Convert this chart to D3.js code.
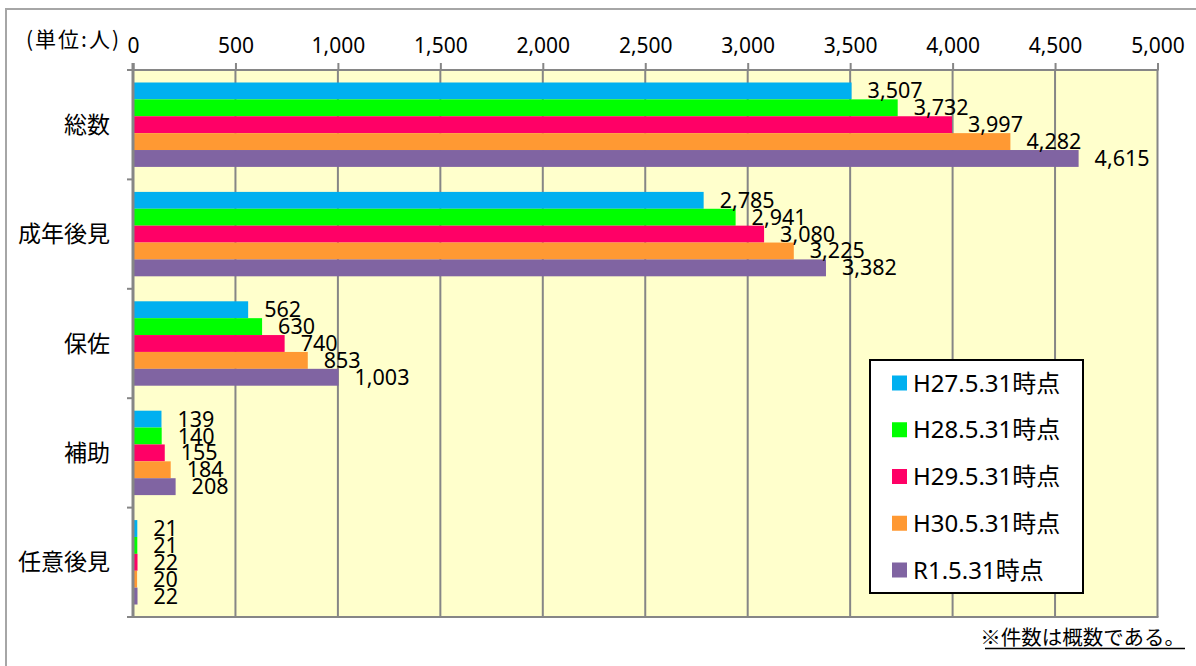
<!DOCTYPE html>
<html><head><meta charset="utf-8">
<script src="https://cdn.jsdelivr.net/npm/d3@7"></script>
<style>
html,body{margin:0;padding:0;background:#fff;}
text{font-family:"Noto Sans","Noto Sans CJK JP",sans-serif;fill:#000;}
.cjk{font-family:"Noto Sans CJK JP","Noto Sans",sans-serif;}
</style></head><body>
<svg id="c" width="1196" height="666"></svg>
<script>
const categories = ["総数","成年後見","保佐","補助","任意後見"];
const seriesNames = ["H27.5.31時点","H28.5.31時点","H29.5.31時点","H30.5.31時点","R1.5.31時点"];
const seriesColors = ["#00B0F0","#00FF00","#FF0066","#FF9933","#8064A2"];
const valuesH27 = [3507,2785,562,139,21];
const valuesH28 = [3732,2941,630,140,21];
const valuesH29 = [3997,3080,740,155,22];
const valuesH30 = [4282,3225,853,184,20];
const valuesR1  = [4615,3382,1003,208,22];
const seriesValues = [valuesH27,valuesH28,valuesH29,valuesH30,valuesR1];
const tickValues = [0,500,1000,1500,2000,2500,3000,3500,4000,4500,5000];
const unitLabel = "(単位:人)";
const noteText = "※件数は概数である。";

const svg = d3.select("#c");
const L = 133, R = 1157.5, T = 70, B = 617;

// outer frame
svg.append("path").attr("d", `M6,666 V9 H1196`).attr("fill","none").attr("stroke","#a6a6a6").attr("stroke-width",2);

const x = d3.scaleLinear().domain([0,5000]).range([L,R]);
const y = d3.scaleBand().domain(categories).range([T,B]).paddingInner(0).paddingOuter(0);
const ySub = d3.scaleBand().domain(d3.range(seriesNames.length)).range([0,y.bandwidth()]).paddingInner(0).paddingOuter(0.74);

// plot background
svg.append("rect").attr("x",L).attr("y",T).attr("width",R-L).attr("height",B-T).attr("fill","#FFFFCC");

// gridlines
svg.append("g").selectAll("line").data(tickValues.slice(1)).join("line")
  .attr("x1",d=>x(d)).attr("x2",d=>x(d)).attr("y1",T).attr("y2",B)
  .attr("stroke","#868686").attr("stroke-width",2);
// top & bottom border
svg.append("line").attr("x1",L).attr("x2",R+1).attr("y1",T).attr("y2",T).attr("stroke","#868686").attr("stroke-width",2);
svg.append("line").attr("x1",L-6).attr("x2",R+1).attr("y1",B).attr("y2",B).attr("stroke","#868686").attr("stroke-width",2);

// bars
const rows = [];
categories.forEach((c,ci)=>seriesValues.forEach((vals,si)=>rows.push({c,si,v:vals[ci]})));
svg.append("g").selectAll("rect").data(rows).join("rect")
  .attr("x",L).attr("y",d=>y(d.c)+ySub(d.si))
  .attr("width",d=>x(d.v)-L).attr("height",ySub.bandwidth())
  .attr("fill",d=>seriesColors[d.si]);

// data labels
const fmt = d3.format(",");
svg.append("g").selectAll("text").data(rows).join("text")
  .attr("x",d=>x(d.v)+16).attr("y",d=>y(d.c)+ySub(d.si)+ySub.bandwidth()/2+7.5)
  .attr("font-size",21.5).text(d=>fmt(d.v));

// top axis
const xAxis = d3.axisTop(x).tickValues(tickValues).tickFormat(d3.format(",")).tickSize(7).tickSizeOuter(0);
const gx = svg.append("g").attr("transform",`translate(0,${T})`).call(xAxis);
gx.select(".domain").remove();
gx.selectAll(".tick line").attr("stroke","#868686").attr("stroke-width",2);
gx.selectAll(".tick text").attr("font-size",21).attr("y",-17).attr("dy",0).attr("font-family",null).attr("fill","#000");

// left axis
const yBounds = categories.map(c=>y(c)).concat([B]);
svg.append("g").selectAll("line").data(yBounds).join("line")
  .attr("x1",L-6).attr("x2",L).attr("y1",d=>d).attr("y2",d=>d).attr("stroke","#868686").attr("stroke-width",2);
svg.append("line").attr("x1",L).attr("x2",L).attr("y1",T-7).attr("y2",B+1).attr("stroke","#868686").attr("stroke-width",3);
svg.append("g").selectAll("text").data(categories).join("text")
  .attr("class","cjk").attr("x",110).attr("y",c=>y(c)+y.bandwidth()/2+8)
  .attr("text-anchor","end").attr("font-size",23).text(c=>c);

// unit label
svg.append("text").attr("class","cjk").attr("x",26).attr("y",47).attr("font-size",21)
  .attr("letter-spacing",2).text(unitLabel);

// legend
const lg = svg.append("g");
lg.append("rect").attr("x",870).attr("y",360).attr("width",213).attr("height",233)
  .attr("fill","#fff").attr("stroke","#000").attr("stroke-width",2);
const lgy = d3.scalePoint().domain(seriesNames).range([383,570]);
lg.selectAll("rect.sw").data(seriesNames).join("rect").attr("class","sw")
  .attr("x",892).attr("y",d=>lgy(d)-7.5).attr("width",15).attr("height",15)
  .attr("fill",(d,i)=>seriesColors[i]);
lg.selectAll("text").data(seriesNames).join("text")
  .attr("x",913).attr("y",d=>lgy(d)+8.5).attr("font-size",24).text(d=>d);

// note
svg.append("text").attr("class","cjk").attr("x",1185).attr("y",645).attr("text-anchor","end")
  .attr("font-size",20.5).text(noteText);
svg.append("line").attr("x1",985).attr("x2",1185).attr("y1",648.5).attr("y2",648.5).attr("stroke","#000").attr("stroke-width",1.3);
</script></body></html>
